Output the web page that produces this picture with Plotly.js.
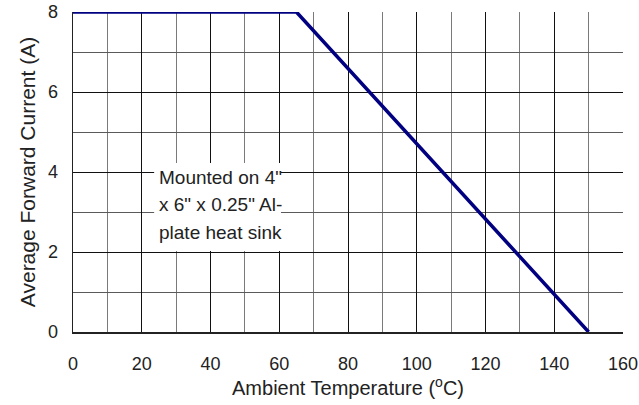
<!DOCTYPE html>
<html>
<head>
<meta charset="utf-8">
<script src="https://cdn.plot.ly/plotly-3.0.1.min.js"></script>
<style>html,body{margin:0;padding:0;background:#fff;}#chart{width:639px;height:405px;}</style>
</head>
<body>
<div id="chart"></div>
<script>
const temperatureC = [0, 65, 150];
const currentA = [8, 8, 0];
const xTickVals = [0, 20, 40, 60, 80, 100, 120, 140, 160];
const yTickVals = [0, 2, 4, 6, 8];
const noteLines = ['Mounted on 4"', 'x 6" x 0.25" Al-', 'plate heat sink'];
const noteLineY = [3.875, 3.2, 2.5];

const FONT = 'Arial, "Liberation Sans", sans-serif';

const trace = {
  x: temperatureC, y: currentA, mode: 'lines', type: 'scatter',
  line: {color: '#000080', width: 3.5}, hoverinfo: 'skip', showlegend: false
};

const annotations = noteLines.map((t, i) => ({
  text: t, x: 24.5, y: noteLineY[i], xref: 'x', yref: 'y',
  xanchor: 'left', yanchor: 'middle', showarrow: false,
  font: {family: FONT, size: 19, color: '#222'}
}));

const layout = {
  width: 639, height: 405,
  margin: {l: 73, r: 16, t: 12, b: 73},
  paper_bgcolor: '#fff', plot_bgcolor: '#fff',
  font: {family: FONT, size: 18, color: '#222'},
  xaxis: {
    range: [0, 160], tickvals: xTickVals, ticks: 'outside', ticklen: 0,
    ticklabelstandoff: 15,
    showgrid: true, gridcolor: '#111', gridwidth: 1,
    minor: {dtick: 10, showgrid: true, gridcolor: '#7a7a7a', gridwidth: 1, ticks: ''},
    showline: true, linecolor: '#222', linewidth: 1.5, zeroline: false,
    title: {text: 'Ambient Temperature (<sup>o</sup>C)', standoff: 6, font: {family: FONT, size: 20, color: '#222'}},
    fixedrange: true
  },
  yaxis: {
    range: [0, 8], tickvals: yTickVals, ticks: 'outside', ticklen: 0,
    ticklabelstandoff: 10,
    showgrid: true, gridcolor: '#111', gridwidth: 1,
    minor: {dtick: 1, showgrid: true, gridcolor: '#5a5a5a', gridwidth: 1, ticks: ''},
    showline: true, linecolor: '#222', linewidth: 1.5, zeroline: false,
    title: {text: 'Average Forward Current (A)', standoff: 6, font: {family: FONT, size: 21, color: '#222'}},
    fixedrange: true
  },
  shapes: [{
    type: 'rect', xref: 'x', yref: 'y', x0: 23.6, x1: 60.5, y0: 2.025, y1: 4.225,
    fillcolor: '#fff', line: {width: 0}, layer: 'above'
  }],
  annotations: annotations
};

Plotly.newPlot('chart', [trace], layout, {displayModeBar: false, staticPlot: true});
</script>
</body>
</html>
